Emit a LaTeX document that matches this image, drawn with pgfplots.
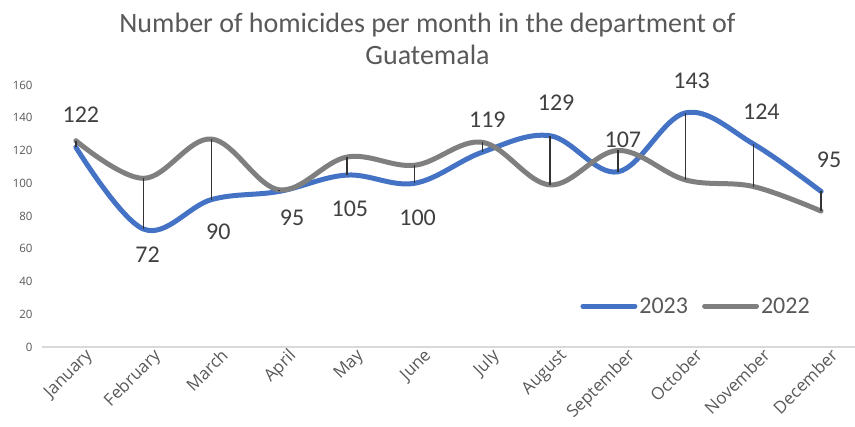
\documentclass[border=0pt]{standalone}
\usepackage{pgfplots}
\pgfplotsset{compat=1.18}
\usepackage{pgfplotstable}
\usepackage{fontspec}
\setmainfont{Carlito}
\newfontfamily\segoe{Open Sans}
\definecolor{sblue}{HTML}{4472C4}
\definecolor{sgray}{HTML}{7F7F7F}
\definecolor{tgray}{HTML}{595959}
\definecolor{lgray}{HTML}{404040}
\definecolor{agray}{HTML}{D9D9D9}
\pgfplotstableread{
x y23 y22 dy dx
0 122 126 33 5
1 72 103 -26 4
2 90 127 -32 7
3 95 96 -26 13
4 105 116 -34 3
5 100 111 -35 3
6 119 125 32 5
7 129 99 33 6
8 107 120 32 5
9 143 102 32 6
10 124 98 32 8
11 95 83 32 8
}\data
\begin{document}
\begin{tikzpicture}
\path[use as bounding box] (-42bp,-80bp) rectangle (813bp,347bp);
\begin{axis}[
  scale only axis, width=813bp, height=262bp,
  xmin=-0.5, xmax=11.5, ymin=0, ymax=160,
  clip=false,
  axis x line*=bottom, axis y line*=left,
  x axis line style={draw=agray, line width=1.3bp, -},
  y axis line style={draw=none},
  xtick style={draw=none}, ytick style={draw=none},
  xtick={0,...,11},
  xticklabels={January,February,March,April,May,June,July,August,September,October,November,December},
  ytick={0,20,...,160},
  /pgf/number format/assume math mode=true,
  yticklabel style={font=\segoe\fontsize{11.5bp}{14bp}\selectfont, text=tgray, xshift=-6bp},
  xticklabel style={font=\segoe\fontsize{17bp}{20bp}\selectfont, text=tgray, rotate=45, anchor=north east, xshift=9bp, yshift=-3bp},
  legend style={at={(axis description cs:0.662,0.156)}, anchor=west, draw=none, fill=none,
    font=\fontsize{24bp}{27bp}\selectfont, text=tgray, inner sep=0pt,
    /tikz/every even column/.style={column sep=12bp}},
  legend columns=2,
  legend image code/.code={\draw[#1, line cap=round] (0bp,0bp) -- (52bp,0bp);},
]
\addplot[sblue, line width=5bp, smooth, tension=0.6, line cap=round] table[x=x, y=y23] {\data};
\addlegendentry{2023}
\addplot[sgray, line width=5bp, smooth, tension=0.6, line cap=round] table[x=x, y=y22] {\data};
\addlegendentry{2022}
\addplot[draw=none, forget plot, error bars/.cd, y dir=plus, y explicit, error mark=none,
  error bar style={draw=black!80, line width=1.3bp}]
  table[x=x, y expr={min(\thisrow{y23},\thisrow{y22})}, y error expr={abs(\thisrow{y23}-\thisrow{y22})}] {\data};
\addplot[draw=none, forget plot, mark=none,
  visualization depends on={\thisrow{dy}\as\dy},
  visualization depends on={\thisrow{dx}\as\dx},
  nodes near coords,
  nodes near coords style={anchor=center, yshift=\dy bp, xshift=\dx bp, text=lgray, font=\fontsize{24bp}{27bp}\selectfont}]
  table[x=x, y=y23] {\data};
\end{axis}
\node[anchor=base, text=tgray, font=\fontsize{28bp}{32bp}\selectfont] at (385.5bp,314bp) {Number of homicides per month in the department of};
\node[anchor=base, text=tgray, font=\fontsize{28bp}{32bp}\selectfont] at (385.5bp,282bp) {Guatemala};
\end{tikzpicture}
\end{document}
